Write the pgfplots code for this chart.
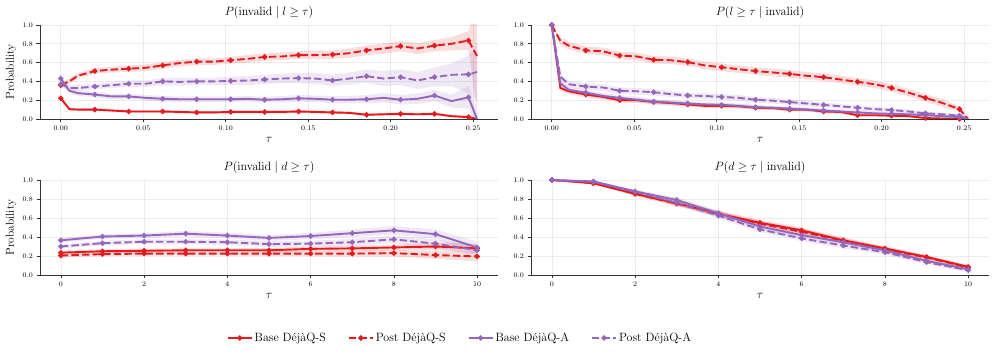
\documentclass[border=0pt]{standalone}
\usepackage{pgfplots}
\usepackage{pgfplotstable}
\pgfplotsset{compat=1.18}
\usepgfplotslibrary{fillbetween}

\definecolor{cR}{HTML}{E41A1C}
\definecolor{cP}{HTML}{9467BD}

% top-left: P(invalid | l >= tau)
\pgfplotstableread{
x      bs    bse   ps    pse   ba    bae   pa    pae
0      0.22  0.02  0.36  0.03  0.43  0.03  0.37  0.03
0.0052 0.105 0.015 0.40  0.03  0.30  0.03  0.33  0.03
0.0103 0.10  0.015 0.46  0.03  0.275 0.03  0.33  0.03
0.0206 0.10  0.015 0.51  0.03  0.26  0.03  0.345 0.03
0.031  0.09  0.015 0.525 0.03  0.24  0.03  0.36  0.03
0.0412 0.08  0.015 0.535 0.035 0.24  0.03  0.375 0.035
0.0515 0.08  0.015 0.545 0.035 0.225 0.03  0.375 0.035
0.0618 0.08  0.015 0.57  0.035 0.215 0.03  0.40  0.04
0.072  0.075 0.015 0.595 0.035 0.21  0.03  0.395 0.04
0.0824 0.07  0.015 0.61  0.035 0.21  0.03  0.40  0.04
0.0927 0.07  0.015 0.61  0.035 0.21  0.03  0.40  0.04
0.103  0.075 0.015 0.625 0.035 0.21  0.03  0.405 0.045
0.1133 0.075 0.015 0.64  0.04  0.215 0.03  0.41  0.05
0.1236 0.075 0.015 0.66  0.04  0.205 0.03  0.42  0.05
0.134  0.075 0.015 0.665 0.04  0.21  0.035 0.43  0.05
0.1442 0.08  0.015 0.68  0.04  0.22  0.035 0.435 0.055
0.1545 0.075 0.015 0.68  0.045 0.215 0.035 0.43  0.06
0.1648 0.07  0.015 0.685 0.045 0.205 0.04  0.41  0.06
0.175  0.065 0.015 0.70  0.05  0.205 0.04  0.43  0.065
0.1854 0.045 0.015 0.73  0.05  0.21  0.045 0.455 0.07
0.1957 0.05  0.015 0.75  0.055 0.225 0.05  0.43  0.08
0.206  0.055 0.015 0.775 0.055 0.205 0.05  0.445 0.085
0.2163 0.05  0.015 0.75  0.06  0.215 0.055 0.41  0.09
0.2266 0.055 0.015 0.78  0.06  0.25  0.06  0.445 0.10
0.2369 0.03  0.015 0.80  0.07  0.19  0.07  0.47  0.12
0.2472 0.02  0.015 0.835 0.10  0.23  0.12  0.475 0.20
0.2524 0.0   0.01  0.67  0.60  0.0   0.10  0.50  0.30
}\tla

% top-right: P(l >= tau | invalid)
\pgfplotstableread{
x      bs    bse   ps    pse   ba    bae   pa    pae
0      1.0   0.0   1.0   0.0   1.0   0.0   1.0   0.0
0.0052 0.33  0.03  0.83  0.04  0.38  0.04  0.45  0.04
0.0103 0.295 0.03  0.78  0.04  0.31  0.03  0.37  0.035
0.0206 0.26  0.03  0.73  0.04  0.28  0.03  0.345 0.035
0.031  0.235 0.03  0.72  0.04  0.245 0.03  0.335 0.035
0.0412 0.20  0.025 0.675 0.04  0.225 0.03  0.30  0.035
0.0515 0.20  0.025 0.665 0.04  0.205 0.03  0.295 0.035
0.0618 0.18  0.025 0.63  0.04  0.185 0.025 0.285 0.035
0.072  0.17  0.025 0.625 0.04  0.175 0.025 0.265 0.03
0.0824 0.155 0.025 0.605 0.04  0.165 0.025 0.25  0.03
0.0927 0.14  0.025 0.57  0.04  0.155 0.025 0.245 0.03
0.103  0.14  0.025 0.55  0.04  0.15  0.025 0.235 0.03
0.1133 0.135 0.02  0.53  0.04  0.14  0.025 0.225 0.03
0.1236 0.12  0.02  0.51  0.04  0.125 0.025 0.205 0.03
0.134  0.115 0.02  0.495 0.04  0.12  0.02  0.195 0.03
0.1442 0.10  0.02  0.48  0.04  0.11  0.02  0.18  0.03
0.1545 0.10  0.02  0.46  0.04  0.10  0.02  0.165 0.03
0.1648 0.08  0.02  0.445 0.04  0.09  0.02  0.15  0.025
0.175  0.075 0.02  0.42  0.04  0.08  0.02  0.135 0.025
0.1854 0.04  0.015 0.395 0.04  0.07  0.02  0.12  0.025
0.1957 0.04  0.015 0.37  0.04  0.06  0.02  0.105 0.025
0.206  0.035 0.015 0.33  0.04  0.055 0.02  0.095 0.02
0.2163 0.03  0.015 0.28  0.04  0.05  0.015 0.08  0.02
0.2266 0.01  0.01  0.225 0.04  0.04  0.015 0.06  0.02
0.2369 0.005 0.01  0.17  0.04  0.03  0.015 0.05  0.02
0.2472 0.0   0.01  0.105 0.03  0.02  0.01  0.035 0.015
0.2524 0.0   0.0   0.0   0.02  0.0   0.005 0.0   0.01
}\tra

% bottom-left: P(invalid | d >= tau)
\pgfplotstableread{
x  bs    bse   ps    pse   ba    bae   pa    pae
0  0.235 0.02  0.205 0.02  0.365 0.025 0.30  0.02
1  0.25  0.02  0.22  0.02  0.405 0.025 0.335 0.025
2  0.255 0.02  0.225 0.02  0.415 0.025 0.35  0.025
3  0.26  0.02  0.225 0.02  0.435 0.03  0.35  0.025
4  0.26  0.02  0.225 0.02  0.415 0.03  0.345 0.03
5  0.26  0.025 0.225 0.025 0.39  0.03  0.325 0.03
6  0.275 0.025 0.225 0.025 0.41  0.035 0.33  0.03
7  0.28  0.03  0.225 0.03  0.44  0.04  0.345 0.035
8  0.29  0.03  0.23  0.035 0.47  0.045 0.375 0.04
9  0.30  0.04  0.21  0.04  0.43  0.05  0.33  0.045
10 0.28  0.05  0.195 0.05  0.29  0.06  0.26  0.05
}\tlb

% bottom-right: P(d >= tau | invalid)
\pgfplotstableread{
x  bs    bse   ps    pse   ba    bae   pa    pae
0  1.0   0.005 1.0   0.005 1.0   0.005 1.0   0.005
1  0.965 0.01  0.97  0.01  0.985 0.01  0.98  0.01
2  0.855 0.02  0.855 0.02  0.88  0.02  0.875 0.02
3  0.755 0.025 0.75  0.025 0.79  0.025 0.76  0.025
4  0.645 0.03  0.645 0.03  0.65  0.03  0.625 0.03
5  0.55  0.03  0.54  0.03  0.51  0.03  0.48  0.03
6  0.47  0.03  0.455 0.03  0.42  0.03  0.385 0.03
7  0.365 0.03  0.36  0.03  0.345 0.03  0.31  0.03
8  0.28  0.025 0.27  0.025 0.26  0.025 0.24  0.025
9  0.19  0.02  0.185 0.02  0.15  0.02  0.135 0.02
10 0.085 0.02  0.08  0.02  0.06  0.02  0.05  0.02
}\trb

% shaded band: #1 table, #2 column, #3 colour, #4 unique name
\newcommand\band[4]{%
  \addplot[name path=u#4, draw=none, forget plot] table[x=x, y expr=\thisrow{#2}+\thisrow{#2e}] {#1};
  \addplot[name path=l#4, draw=none, forget plot] table[x=x, y expr=\thisrow{#2}-\thisrow{#2e}] {#1};
  \addplot[fill=#3, fill opacity=0.15, draw=none, forget plot] fill between[of=u#4 and l#4];
}

\pgfplotsset{
  panel/.style={
    scale only axis, width=458pt, height=94pt,
    ymin=0, ymax=1, ytick={0,0.2,...,1},
    axis lines*=left, axis line style={draw=black!80, line width=0.8pt},
    tick align=outside, tick pos=left, major tick length=3.5pt,
    tick style={draw=black!80, line width=0.6pt},
    grid=major, grid style={draw=black!8, line width=0.6pt},
    tick label style={font=\fontsize{7.5}{8}\selectfont},
    yticklabel style={/pgf/number format/.cd, fixed, fixed zerofill, precision=1},
    title style={font=\fontsize{13}{14}\selectfont, yshift=-3pt},
    xlabel={$\tau$},
    xlabel style={font=\fontsize{12}{12}\selectfont, at={(axis description cs:0.5,-0.225)}, anchor=center},
    ylabel style={font=\fontsize{11.5}{12}\selectfont, at={(axis description cs:-0.0633,0.5)}, anchor=center},
  },
  topx/.style={
    xmin=-0.0126, xmax=0.2651, xtick={0,0.05,...,0.25},
    xticklabel style={/pgf/number format/.cd, fixed, fixed zerofill, precision=2},
  },
  botx/.style={xmin=-0.5, xmax=10.5, xtick={0,2,...,10}},
  bS/.style={cR, line width=1.9pt, mark=*, mark size=1.6pt},
  pS/.style={cR, line width=1.9pt, mark=*, mark size=1.6pt, dash pattern=on 7.4pt off 3.2pt, mark options={solid}},
  bA/.style={cP, line width=1.9pt, mark=*, mark size=1.6pt},
  pA/.style={cP, line width=1.9pt, mark=*, mark size=1.6pt, dash pattern=on 7.4pt off 3.2pt, mark options={solid}},
  topm/.style={mark indices={1,4,6,8,10,12,14,16,18,20,22,24,26}},
}

\begin{document}
\begin{tikzpicture}

\begin{axis}[panel, topx, at={(40pt,236pt)}, anchor=south west,
  title={$P(\mathrm{invalid}\mid l\geq\tau)$}, ylabel={Probability}]
  \band{\tla}{bs}{cR}{a1}
  \band{\tla}{ps}{cR}{a2}
  \band{\tla}{ba}{cP}{a3}
  \band{\tla}{pa}{cP}{a4}
  \addplot[bS, topm] table[x=x, y=bs] {\tla};
  \addplot[pS, topm] table[x=x, y=ps] {\tla};
  \addplot[bA, topm] table[x=x, y=ba] {\tla};
  \addplot[pA, topm] table[x=x, y=pa] {\tla};
\end{axis}

\begin{axis}[panel, topx, at={(531pt,236pt)}, anchor=south west,
  title={$P(l\geq\tau\mid\mathrm{invalid})$}]
  \band{\tra}{bs}{cR}{b1}
  \band{\tra}{ps}{cR}{b2}
  \band{\tra}{ba}{cP}{b3}
  \band{\tra}{pa}{cP}{b4}
  \addplot[bS, topm] table[x=x, y=bs] {\tra};
  \addplot[pS, topm] table[x=x, y=ps] {\tra};
  \addplot[bA, topm] table[x=x, y=ba] {\tra};
  \addplot[pA, topm] table[x=x, y=pa] {\tra};
\end{axis}

\begin{axis}[panel, botx, at={(40pt,80pt)}, anchor=south west, height=95pt,
  title={$P(\mathrm{invalid}\mid d\geq\tau)$}, ylabel={Probability}]
  \band{\tlb}{bs}{cR}{c1}
  \band{\tlb}{ps}{cR}{c2}
  \band{\tlb}{ba}{cP}{c3}
  \band{\tlb}{pa}{cP}{c4}
  \addplot[bS] table[x=x, y=bs] {\tlb};
  \addplot[pS] table[x=x, y=ps] {\tlb};
  \addplot[bA] table[x=x, y=ba] {\tlb};
  \addplot[pA] table[x=x, y=pa] {\tlb};
\end{axis}

\begin{axis}[panel, botx, at={(531pt,80pt)}, anchor=south west, height=95pt,
  title={$P(d\geq\tau\mid\mathrm{invalid})$},
  legend columns=4,
  legend style={draw=none, fill=none, at={(axis description cs:-0.155,-0.663)}, anchor=center,
    font=\fontsize{12}{13}\selectfont, /tikz/every even column/.append style={column sep=20pt}},
  legend image code/.code={\draw[mark repeat=2, mark phase=2, #1] plot coordinates {(0pt,0pt) (12pt,0pt) (24pt,0pt)};}]
  \band{\trb}{bs}{cR}{d1}
  \band{\trb}{ps}{cR}{d2}
  \band{\trb}{ba}{cP}{d3}
  \band{\trb}{pa}{cP}{d4}
  \addplot[bS] table[x=x, y=bs] {\trb};
  \addplot[pS] table[x=x, y=ps] {\trb};
  \addplot[bA] table[x=x, y=ba] {\trb};
  \addplot[pA] table[x=x, y=pa] {\trb};
  \legend{Base DéjàQ-S, Post DéjàQ-S, Base DéjàQ-A, Post DéjàQ-A}
\end{axis}
\path (0,0) rectangle (997pt,355pt);
\end{tikzpicture}
\end{document}
